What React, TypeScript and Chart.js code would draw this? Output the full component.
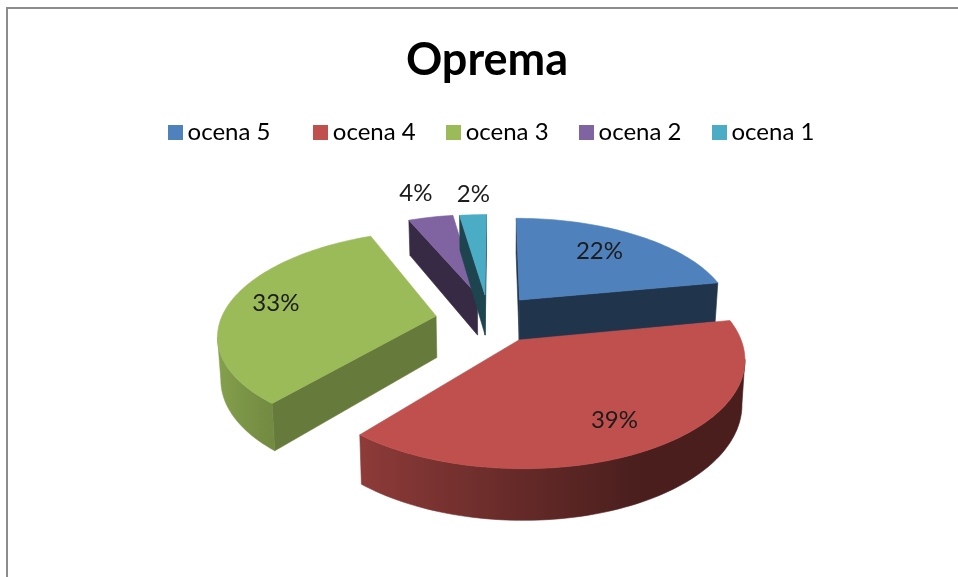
import React, { useEffect, useRef } from "react";
import { Chart, registerables } from "chart.js";

Chart.register(...registerables);

const title = "Oprema";
const categories = ["ocena 5", "ocena 4", "ocena 3", "ocena 2", "ocena 1"];
const values = [22, 39, 32.6, 4, 2.4];
const colors = ["#4f81bd", "#c0504d", "#9bbb59", "#8064a2", "#4bacc6"];

// Exploded-slice displacement, in units of the pie radius (ground plane).
const explodeU = [0.1127, 0.103, -0.28, -0.09, -0.0532];
const explodeV = [-0.165, 0.232, 0, -0.218, -0.218];
// Darkening of each slice's straight cut wall.
const cutShade = [0.4, 0.4, 0.66, 0.42, 0.4];
// Data label placement.
const labelRadius = [0.7, 0.7, 0.78, 1.25, 1.25];
const labelNudgeX = [-4, 5, 1, -5, 3];
const labelNudgeY = [-2, 8, -2, -8, -4];

// 3D view.
const VIEW = { cx: 496, cy: 316, a: 214, b: 99.5, persp: 0.16, depth: 41.5, taper: 0.012 };
const LEGEND_SHIFT = { x: 7.5, y: -14 };
const FONT = "Lato, 'Open Sans', sans-serif";

function project(u: number, v: number, drop = 0) {
  const s = 1 / (1 - VIEW.persp * v);
  return {
    x: VIEW.cx + VIEW.a * u * s * (1 - VIEW.taper * drop),
    y: VIEW.cy + VIEW.b * v * s + drop * VIEW.depth * s,
  };
}

function shade(hex: string, f: number) {
  const n = parseInt(hex.slice(1), 16);
  const c = [(n >> 16) & 255, (n >> 8) & 255, n & 255].map((k) => Math.round(k * f));
  return `rgb(${c[0]},${c[1]},${c[2]})`;
}

function wallFactor(u: number) {
  if (u <= -0.64) return 0.74 + ((-0.64 - u) / 0.36) * 0.14;
  if (u <= 0) return 0.52 + ((0 - u) / 0.64) * 0.22;
  if (u <= 0.45) return 0.38 + ((0.45 - u) / 0.45) * 0.14;
  return 0.38;
}

function poly(ctx: CanvasRenderingContext2D, pts: any[], fill: any) {
  ctx.fillStyle = fill;
  ctx.strokeStyle = fill;
  ctx.lineWidth = 0.6;
  ctx.beginPath();
  pts.forEach((p, i) => (i ? ctx.lineTo(p.x, p.y) : ctx.moveTo(p.x, p.y)));
  ctx.closePath();
  ctx.fill();
  ctx.stroke();
}

const pie3d = {
  id: "pie3d",
  afterLayout(chart: any) {
    const legend = chart.legend;
    legend.left += LEGEND_SHIFT.x;
    legend.right += LEGEND_SHIFT.x;
    legend.top += LEGEND_SHIFT.y;
    legend.bottom += LEGEND_SHIFT.y;
  },
  beforeDraw(chart: any) {
    const { ctx } = chart;
    ctx.save();
    ctx.strokeStyle = "#8c8c8c";
    ctx.lineWidth = 2;
    ctx.beginPath();
    ctx.moveTo(7, 577);
    ctx.lineTo(7, 8);
    ctx.lineTo(958, 8);
    ctx.stroke();
    ctx.restore();
  },
  beforeDatasetsDraw(chart: any) {
    const { ctx } = chart;
    const arcs = chart.getDatasetMeta(0).data;
    const order = arcs.map((_: any, i: number) => i).sort((a: number, b: number) => explodeV[a] - explodeV[b]);
    ctx.save();
    for (const i of order) {
      const { startAngle, endAngle } = arcs[i];
      const color = colors[i];
      const u0 = explodeU[i];
      const v0 = explodeV[i];
      const steps = Math.max(6, Math.ceil(((endAngle - startAngle) * 180) / Math.PI / 1.5));
      const rim: number[] = [];
      for (let k = 0; k <= steps; k++) rim.push(startAngle + ((endAngle - startAngle) * k) / steps);
      const at = (t: number, drop = 0) => project(u0 + Math.cos(t), v0 + Math.sin(t), drop);
      const apexT = project(u0, v0, 0);
      const apexB = project(u0, v0, 1);
      const first = at(startAngle);
      const last = at(endAngle);
      if (first.x < apexT.x) poly(ctx, [apexT, first, at(startAngle, 1), apexB], shade(color, cutShade[i]));
      if (apexT.x < last.x) poly(ctx, [last, apexT, apexB, at(endAngle, 1)], shade(color, cutShade[i]));
      // Outer wall: the part of the rim that runs right-to-left on screen faces the viewer.
      const front = rim.filter((t, k) => {
        const a = at(t);
        const prev = k > 0 ? at(rim[k - 1]) : null;
        const next = k < steps ? at(rim[k + 1]) : null;
        return (next && next.x < a.x) || (prev && a.x < prev.x);
      });
      if (front.length > 1) {
        const xStart = at(front[0]).x;
        const xEnd = at(front[front.length - 1]).x;
        const grad = ctx.createLinearGradient(xStart, 0, xEnd, 0);
        front.forEach((t) => {
          const pos = (at(t).x - xStart) / (xEnd - xStart);
          grad.addColorStop(Math.min(1, Math.max(0, pos)), shade(color, wallFactor(Math.cos(t))));
        });
        poly(ctx, [...front.map((t) => at(t)), ...front.slice().reverse().map((t) => at(t, 1))], grad);
      }
      poly(ctx, [apexT, ...rim.map((t) => at(t))], color);
    }
    ctx.fillStyle = "#1c1c1c";
    ctx.font = `24px ${FONT}`;
    ctx.textAlign = "center";
    ctx.textBaseline = "middle";
    const total = values.reduce((a, b) => a + b, 0);
    arcs.forEach((arc: any, i: number) => {
      const mid = (arc.startAngle + arc.endAngle) / 2;
      const p = project(explodeU[i] + Math.cos(mid) * labelRadius[i], explodeV[i] + Math.sin(mid) * labelRadius[i]);
      ctx.fillText(`${Math.round((values[i] / total) * 100)}%`, p.x + labelNudgeX[i], p.y + labelNudgeY[i]);
    });
    ctx.restore();
    return false;
  },
};

function swatch(color: string) {
  const c = document.createElement("canvas");
  c.width = 15;
  c.height = 15;
  const g = c.getContext("2d")!;
  g.fillStyle = color;
  g.fillRect(0, 0, 15, 15);
  return c;
}

export default function App() {
  const ref = useRef<HTMLCanvasElement>(null);
  useEffect(() => {
    const chart = new Chart(ref.current!, {
      type: "pie",
      data: {
        labels: categories,
        datasets: [{ data: values, backgroundColor: colors, borderWidth: 0 }],
      },
      options: {
        responsive: false,
        animation: false,
        events: [],
        layout: { padding: { left: 16, top: 33, right: 0, bottom: 0 } },
        plugins: {
          title: {
            display: true,
            text: title,
            color: "#000",
            font: { family: FONT, size: 45, weight: "bold" },
            padding: { top: 0, bottom: 10 },
          },
          legend: {
            display: true,
            position: "top",
            labels: {
              color: "#262626",
              font: { family: FONT, size: 24 },
              usePointStyle: true,
              pointStyleWidth: 1,
              padding: 37,
              generateLabels: () =>
                categories.map((text, i) => ({
                  text: i === 0 ? text + "  " : text,
                  fillStyle: colors[i],
                  strokeStyle: colors[i],
                  lineWidth: 0,
                  pointStyle: swatch(colors[i]),
                  hidden: false,
                  index: i,
                })) as any,
            },
          },
          tooltip: { enabled: false },
        },
      },
      plugins: [pie3d as any],
    });
    return () => chart.destroy();
  }, []);
  return (
    <div style={{ position: "absolute", left: 0, top: 0, width: 958, height: 577, background: "#fff" }}>
      <canvas ref={ref} width={958} height={577} style={{ display: "block" }} />
    </div>
  );
}
